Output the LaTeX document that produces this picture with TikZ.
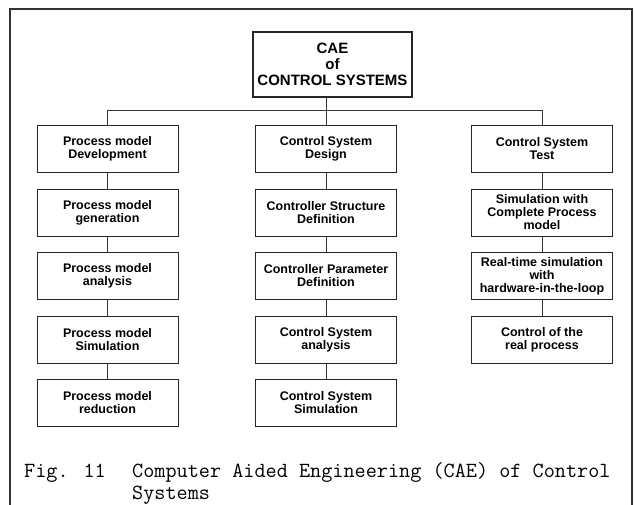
\documentclass[tikz,border=0pt]{standalone}
\usepackage{fontspec}
\setsansfont{Liberation Sans}
\usetikzlibrary{positioning}
\tikzstyle{stagebox} = [draw=black!85, line width=1pt, rectangle,
    minimum width=141pt, minimum height=47pt, inner sep=1pt, align=center,
    font=\sffamily\bfseries\fontsize{12.5}{13}\selectfont]
\tikzstyle{rootbox} = [draw=black!85, line width=1.2pt, rectangle,
    minimum width=159pt, minimum height=65pt, inner sep=1pt, align=center,
    font=\sffamily\bfseries\fontsize{15}{16}\selectfont]
\tikzstyle{link} = [draw=black!80, line width=0.9pt]
\tikzstyle{figtext} = [font=\ttfamily\fontsize{21.6}{22}\selectfont,
    inner sep=0pt, anchor=base west]

\begin{document}
\begin{tikzpicture}[x=1pt, y=-1pt]
    \useasboundingbox (0,0) rectangle (635,504);
    % open frame round the figure
    \draw[black!80, line width=1.4pt] (10,520) -- (10,9) -- (632,9) -- (632,520);

    \node [rootbox] (cae) at (332.5,64.5) {CAE\\of\\CONTROL SYSTEMS};

    % first level
    \node [stagebox] (dev) at (107.5,149) {Process model\\Development};
    \node [stagebox] (design) at (326,149) {Control System\\Design};
    \node [stagebox] (test) at (542,149) {Control System\\Test};

    % process model column
    \node [stagebox, below=15.5pt of dev] (gen) {Process model\\generation};
    \node [stagebox, below=15.5pt of gen] (ana) {Process model\\analysis};
    \node [stagebox, below=15.5pt of ana] (sim) {Process model\\Simulation};
    \node [stagebox, below=15.5pt of sim] (red) {Process model\\reduction};

    % control system design column
    \node [stagebox, below=15.5pt of design] (struct) {Controller Structure\\Definition};
    \node [stagebox, below=15.5pt of struct] (param) {Controller Parameter\\Definition};
    \node [stagebox, below=15.5pt of param] (csana) {Control System\\analysis};
    \node [stagebox, below=15.5pt of csana] (cssim) {Control System\\Simulation};

    % test column
    \node [stagebox, below=15.5pt of test] (full) {Simulation with\\Complete Process\\model};
    \node [stagebox, below=15.5pt of full] (hil) {Real-time simulation\\with\\hardware-in-the-loop};
    \node [stagebox, below=15.5pt of hil] (real) {Control of the\\real process};

    % tree lines
    \draw [link] (design.north |- cae.south) -- (design.north);
    \draw [link] (dev.north) -- ++(0,-15) -| (test.north);
    \foreach \a/\b in {dev/gen, gen/ana, ana/sim, sim/red,
                       design/struct, struct/param, param/csana, csana/cssim,
                       test/full, full/hil, hil/real}
        \draw [link] (\a) -- (\b);

    % caption
    \node [figtext] (fignum) at (24,477) {Fig. 11};
    \node [figtext] (figtitle) at (132,477) {Computer Aided Engineering (CAE) of Control};
    \node [figtext] (figtitle2) at (132,499) {Systems};
\end{tikzpicture}
\end{document}
